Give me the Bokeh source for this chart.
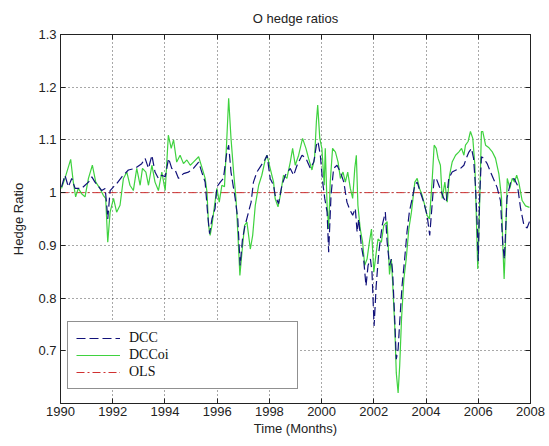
from bokeh.plotting import figure
from bokeh.models import Range1d, FixedTicker, LinearAxis, Legend, LegendItem
from bokeh.embed import file_html
from bokeh.resources import INLINE

# ---- data -------------------------------------------------------------
dcc_t = [1990.04, 1990.17, 1990.30, 1990.43, 1990.56, 1990.81, 1991.07, 1991.20, 1991.32, 1991.58,
         1991.71, 1991.77, 1991.81, 1991.90, 1992.03, 1992.15, 1992.35, 1992.60, 1992.86, 1993.11,
         1993.24, 1993.37, 1993.50, 1993.62, 1993.75, 1993.88, 1994.01, 1994.14, 1994.26, 1994.39,
         1994.52, 1994.71, 1994.90, 1995.09, 1995.29, 1995.41, 1995.54, 1995.64, 1995.71, 1995.80,
         1995.92, 1995.99, 1996.12, 1996.24, 1996.37, 1996.44, 1996.53, 1996.69, 1996.79, 1996.88,
         1996.97, 1997.07, 1997.20, 1997.30, 1997.39, 1997.52, 1997.65, 1997.82, 1997.91, 1998.03,
         1998.16, 1998.22, 1998.35, 1998.48, 1998.61, 1998.80, 1998.93, 1999.06, 1999.25, 1999.40,
         1999.57, 1999.70, 1999.80, 1999.86, 1999.95, 2000.04, 2000.12, 2000.21, 2000.27, 2000.36,
         2000.46, 2000.59, 2000.72, 2000.85, 2000.97, 2001.06, 2001.19, 2001.29, 2001.36, 2001.42,
         2001.52, 2001.61, 2001.70, 2001.78, 2001.87, 2001.93, 2002.01, 2002.09, 2002.19, 2002.32,
         2002.44, 2002.51, 2002.60, 2002.67, 2002.72, 2002.80, 2002.86, 2002.93, 2002.99, 2003.08,
         2003.18, 2003.27, 2003.36, 2003.47, 2003.57, 2003.66, 2003.78, 2003.91, 2004.04, 2004.14,
         2004.23, 2004.31, 2004.39, 2004.49, 2004.59, 2004.68, 2004.77, 2004.87, 2005.00, 2005.15,
         2005.32, 2005.45, 2005.54, 2005.64, 2005.74, 2005.82, 2005.89, 2005.95, 2006.00, 2006.05,
         2006.12, 2006.21, 2006.34, 2006.47, 2006.60, 2006.72, 2006.85, 2006.94, 2007.00, 2007.10,
         2007.24, 2007.37, 2007.50, 2007.62, 2007.75, 2007.87, 2007.96]
dcc_v = [1.011, 1.033, 1.011, 1.027, 1.008, 1.008, 1.020, 1.030, 1.020, 1.004,
         1.008, 0.976, 0.950, 1.004, 1.011, 1.017, 1.030, 1.043, 1.046, 1.055,
         1.065, 1.046, 1.071, 1.039, 1.027, 1.033, 1.030, 1.065, 1.046, 1.043,
         1.027, 1.036, 1.039, 1.046, 1.058, 1.039, 1.020, 0.957, 0.922, 0.950,
         0.970, 1.011, 1.020, 1.027, 1.077, 1.090, 1.039, 0.989, 0.950, 0.862,
         0.912, 0.938, 0.963, 0.982, 1.020, 1.039, 1.049, 1.062, 1.071, 1.027,
         1.014, 0.995, 0.979, 1.014, 1.033, 1.046, 1.033, 1.052, 1.071, 1.065,
         1.046, 1.058, 1.090, 1.097, 1.071, 1.020, 0.989, 0.963, 0.887, 0.995,
         1.046, 1.052, 1.039, 1.020, 0.982, 0.970, 0.957, 0.970, 0.925, 0.950,
         0.900, 0.874, 0.823, 0.862, 0.874, 0.849, 0.747, 0.823, 0.887, 0.938,
         0.963, 0.906, 0.862, 0.874, 0.849, 0.760, 0.684, 0.703, 0.754, 0.823,
         0.874, 0.925, 0.963, 0.989, 1.014, 1.020, 1.001, 0.982, 0.957, 0.919,
         0.976, 1.027, 1.027, 1.014, 1.001, 0.989, 0.982, 1.027, 1.039, 1.043,
         1.046, 1.052, 1.065, 1.077, 1.084, 1.065, 1.014, 0.950, 0.870, 0.989,
         1.068, 1.065, 1.055, 1.039, 1.024, 1.010, 0.985, 0.900, 0.874, 0.990,
         1.020, 1.027, 1.014, 0.970, 0.938, 0.933, 0.945]

dccoi_t = [1990.04, 1990.17, 1990.39, 1990.49, 1990.58, 1990.68, 1990.81, 1990.94, 1991.07, 1991.22,
           1991.35, 1991.51, 1991.64, 1991.73, 1991.81, 1991.90, 1992.03, 1992.15, 1992.28, 1992.41,
           1992.54, 1992.66, 1992.79, 1992.92, 1993.05, 1993.14, 1993.27, 1993.37, 1993.50, 1993.62,
           1993.75, 1993.88, 1994.01, 1994.13, 1994.24, 1994.33, 1994.45, 1994.58, 1994.71, 1994.84,
           1994.97, 1995.09, 1995.29, 1995.41, 1995.54, 1995.61, 1995.67, 1995.73, 1995.80, 1995.90,
           1995.99, 1996.08, 1996.18, 1996.28, 1996.37, 1996.44, 1996.53, 1996.63, 1996.72, 1996.79,
           1996.87, 1996.95, 1997.05, 1997.14, 1997.27, 1997.36, 1997.46, 1997.59, 1997.71, 1997.84,
           1997.91, 1998.03, 1998.16, 1998.22, 1998.33, 1998.42, 1998.54, 1998.67, 1998.80, 1998.89,
           1998.99, 1999.12, 1999.27, 1999.40, 1999.50, 1999.63, 1999.73, 1999.80, 1999.85, 1999.93,
           2000.01, 2000.10, 2000.14, 2000.21, 2000.27, 2000.33, 2000.42, 2000.53, 2000.63, 2000.72,
           2000.82, 2000.91, 2001.00, 2001.10, 2001.19, 2001.27, 2001.33, 2001.39, 2001.48, 2001.57,
           2001.65, 2001.74, 2001.83, 2001.91, 2002.00, 2002.06, 2002.16, 2002.29, 2002.38, 2002.51,
           2002.60, 2002.67, 2002.72, 2002.80, 2002.86, 2002.93, 2002.99, 2003.06, 2003.15, 2003.24,
           2003.34, 2003.44, 2003.57, 2003.66, 2003.75, 2003.85, 2003.95, 2004.04, 2004.13, 2004.23,
           2004.31, 2004.39, 2004.46, 2004.55, 2004.62, 2004.72, 2004.81, 2004.90, 2005.00, 2005.13,
           2005.25, 2005.36, 2005.45, 2005.51, 2005.61, 2005.70, 2005.79, 2005.87, 2005.92, 2005.98,
           2006.05, 2006.12, 2006.17, 2006.28, 2006.41, 2006.53, 2006.66, 2006.79, 2006.89, 2006.94,
           2006.99, 2007.04, 2007.11, 2007.21, 2007.30, 2007.39, 2007.47, 2007.55, 2007.68, 2007.81,
           2007.96]
dccoi_v = [1.008, 1.027, 1.063, 1.020, 0.992, 1.008, 0.998, 0.992, 1.027, 1.052,
           1.020, 1.008, 0.995, 0.989, 0.906, 0.963, 0.989, 0.963, 0.976, 1.027,
           1.039, 1.014, 1.004, 1.046, 1.014, 1.046, 1.039, 1.014, 1.052, 1.020,
           1.004, 1.039, 1.004, 1.109, 1.084, 1.100, 1.058, 1.071, 1.055, 1.062,
           1.052, 1.058, 1.068, 1.049, 1.027, 1.001, 0.938, 0.919, 0.938, 0.976,
           1.008, 0.982, 1.014, 1.011, 1.103, 1.179, 1.103, 1.039, 0.989, 0.925,
           0.843, 0.887, 0.938, 0.944, 0.893, 0.919, 0.976, 1.014, 1.033, 1.062,
           1.071, 1.046, 1.020, 0.989, 0.973, 0.995, 1.033, 1.027, 1.058, 1.084,
           1.052, 1.071, 1.103, 1.084, 1.065, 1.043, 1.065, 1.135, 1.166, 1.103,
           1.084, 1.014, 1.084, 0.976, 0.931, 1.020, 1.084, 1.077, 1.058, 1.027,
           1.039, 1.020, 1.039, 1.008, 0.989, 1.046, 1.071, 0.976, 0.931, 0.906,
           0.862, 0.874, 0.906, 0.931, 0.849, 0.874, 0.912, 0.906, 0.938, 0.945,
           0.845, 0.874, 0.830, 0.747, 0.658, 0.620, 0.671, 0.760, 0.836, 0.874,
           0.931, 0.963, 1.020, 1.027, 1.008, 0.995, 0.976, 0.957, 0.950, 1.020,
           1.090, 1.084, 1.065, 1.052, 0.989, 1.020, 0.982, 1.033, 1.058, 1.071,
           1.077, 1.084, 1.071, 1.090, 1.097, 1.116, 1.103, 1.052, 0.963, 0.855,
           0.976, 1.116, 1.116, 1.090, 1.085, 1.078, 1.065, 1.035, 0.990, 0.900,
           0.836, 0.900, 1.027, 1.008, 1.027, 1.020, 1.033, 1.020, 0.985, 0.975,
           0.972]

ols_ratio = 1.0
period = [1990, 2008]

x_ticks = [1990, 1992, 1994, 1996, 1998, 2000, 2002, 2004, 2006, 2008]
y_ticks = [0.7, 0.8, 0.9, 1.0, 1.1, 1.2, 1.3]
y_tick_labels = ["0.7", "0.8", "0.9", "1", "1.1", "1.2", "1.3"]

# ---- figure -----------------------------------------------------------
FONT = "Liberation Sans"
INK = "#222222"

p = figure(width=549, height=446,
           x_range=Range1d(period[0], period[1]), y_range=Range1d(0.6, 1.3),
           output_backend="svg", toolbar_location=None,
           min_border_left=60, min_border_right=19,
           min_border_top=34, min_border_bottom=43,
           title="O hedge ratios")
p.background_fill_color = "white"
p.border_fill_color = "white"
p.outline_line_color = INK

p.title.align = "center"
p.title.text_font = FONT
p.title.text_font_size = "13px"
p.title.text_font_style = "normal"
p.title.text_color = INK
p.title.standoff = 17

r_ols = p.line(period, [ols_ratio, ols_ratio], line_color="#d03030",
               line_dash="8 3 2 3", line_width=1)
r_oi = p.line(dccoi_t, dccoi_v, line_color="#3fd23f", line_width=1.2)
r_dcc = p.line(dcc_t, dcc_v, line_color="#12127a", line_dash="9 4", line_width=1.2)

# axes: ticks pointing inward
for ax in (p.xaxis[0], p.yaxis[0]):
    ax.major_tick_in = 5
    ax.major_tick_out = 0
    ax.minor_tick_in = 0
    ax.minor_tick_out = 0
    ax.axis_line_color = INK
    ax.major_tick_line_color = INK
    ax.major_label_text_font = FONT
    ax.major_label_text_font_size = "13px"
    ax.major_label_text_color = INK
    ax.axis_label_text_font = FONT
    ax.axis_label_text_font_size = "13px"
    ax.axis_label_text_font_style = "normal"
    ax.axis_label_text_color = INK

p.xaxis.ticker = FixedTicker(ticks=x_ticks)
p.xaxis.axis_label = "Time (Months)"
p.xaxis.major_label_standoff = 3
p.xaxis.axis_label_standoff = 2

p.yaxis.ticker = FixedTicker(ticks=y_ticks)
p.yaxis.major_label_overrides = {t: s for t, s in zip(y_ticks, y_tick_labels)}
p.yaxis.axis_label = "Hedge Ratio"
p.yaxis.major_label_standoff = 4
p.yaxis.axis_label_standoff = 9

# tick marks only (no labels) along the top and right edges of the box
edge_style = dict(major_label_text_color=None, major_label_text_font_size="1px",
                  major_tick_in=5, major_tick_out=0, minor_tick_in=0, minor_tick_out=0,
                  major_label_standoff=0, axis_line_color=INK, major_tick_line_color=INK)
top = LinearAxis(ticker=FixedTicker(ticks=x_ticks), **edge_style)
right = LinearAxis(ticker=FixedTicker(ticks=y_ticks), **edge_style)
p.add_layout(top, "above")
p.add_layout(right, "right")

for g in (p.xgrid[0], p.ygrid[0]):
    g.grid_line_color = "#333333"
    g.grid_line_dash = "1 3"
    g.grid_line_alpha = 0.85
p.xgrid.ticker = FixedTicker(ticks=x_ticks)
p.ygrid.ticker = FixedTicker(ticks=y_ticks)

legend = Legend(items=[LegendItem(label="DCC", renderers=[r_dcc]),
                       LegendItem(label="DCCoi", renderers=[r_oi]),
                       LegendItem(label="OLS", renderers=[r_ols])],
                location=(7, 14), orientation="vertical",
                border_line_color=INK, border_line_width=1,
                background_fill_color="white", background_fill_alpha=1.0,
                padding=8, spacing=1, margin=0,
                glyph_width=44, glyph_height=16, label_height=16,
                label_width=160, label_standoff=9,
                label_text_font="Liberation Serif", label_text_font_size="14px",
                label_text_color="#111111")
p.add_layout(legend)

open("out.html", "w").write(file_html(p, INLINE))
